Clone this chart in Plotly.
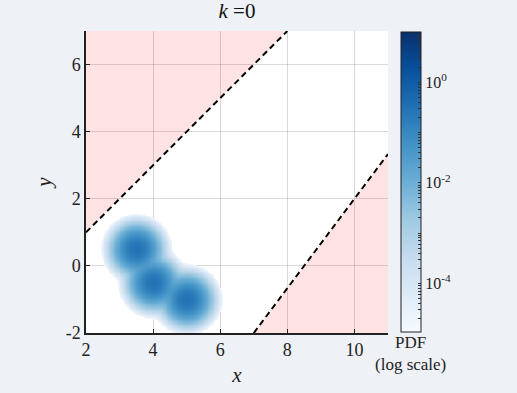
import numpy as np
import plotly.graph_objects as go

# Data
means_x = [3.5, 4.0, 5.0]
means_y = [0.5, -0.5, -1.0]
peak_pdf = [0.3, 0.3, 0.3]
sigma = 0.24
pdf_floor_log = -4.8
upper_line_x = [2, 8]
upper_line_y = [1, 7]
lower_line_x = [7, 11]
lower_line_y = [-2, 3.3333]
x_ticks = [2, 4, 6, 8, 10]
x_ticktext = ["2", "4", "6", "8", "10"]
y_ticks = [-2, 0, 2, 4, 6]
y_ticktext = ["-2", "0", "2", "4", "6"]
cbar_major = [-4, -2, 0]
cbar_major_text = ["10<sup>-4</sup>", "10<sup>-2</sup>", "10<sup>0</sup>"]
log_min, log_max = -4.97, 1.0

xs = np.linspace(2, 11, 361)
ys = np.linspace(-2, 7, 361)
X, Y = np.meshgrid(xs, ys)
pdf = np.zeros_like(X)
for mx, my, p in zip(means_x, means_y, peak_pdf):
    pdf += p * np.exp(-((X - mx)**2 + (Y - my)**2) / (2 * sigma**2))
Z = np.where(pdf >= 10**pdf_floor_log, np.log10(np.maximum(pdf, 1e-300)), np.nan)

cb_vals, cb_text = [], []
for d in range(-5, 1):
    for m in range(1, 10):
        v = d + np.log10(m)
        if log_min <= v <= log_max:
            cb_vals.append(v)
            cb_text.append(cbar_major_text[cbar_major.index(d)] if (m == 1 and d in cbar_major) else " ")

pink = "rgba(255,0,0,0.11)"
font = "Liberation Serif"
fig = go.Figure()

fig.add_trace(go.Scatter(x=[2, 2, 8, 2], y=[1, 7, 7, 1], fill="toself", fillcolor=pink,
                         line=dict(width=0), mode="lines", hoverinfo="skip", showlegend=False))
fig.add_trace(go.Scatter(x=[7, 11, 11, 7], y=[-2, 3.3333, -2, -2], fill="toself", fillcolor=pink,
                         line=dict(width=0), mode="lines", hoverinfo="skip", showlegend=False))

fig.add_trace(go.Heatmap(x=xs, y=ys, z=Z, colorscale="Blues", zmin=log_min, zmax=log_max,
                         zsmooth="best", hoverinfo="skip",
                         colorbar=dict(x=1.043, xanchor="left", y=0.5, yanchor="middle",
                                       len=0.995, lenmode="fraction", thickness=20,
                                       xpad=0, ypad=0, outlinewidth=1, outlinecolor="#222",
                                       tickmode="array", tickvals=cb_vals, ticktext=cb_text,
                                       ticks="inside", ticklen=3, tickcolor="#333",
                                       tickfont=dict(family=font, size=16, color="#222"))))

for lx, ly in [(upper_line_x, upper_line_y), (lower_line_x, lower_line_y)]:
    fig.add_trace(go.Scatter(x=lx, y=ly, mode="lines", line=dict(color="black", width=2, dash="6px,4px"),
                             hoverinfo="skip", showlegend=False))

axis_common = dict(showgrid=True, gridcolor="rgba(0,0,0,0.15)", gridwidth=1, zeroline=False,
                   showline=True, linecolor="#222", linewidth=1.5, ticks="inside", ticklen=4,
                   tickcolor="#222", tickfont=dict(family=font, size=18, color="#222"),
                   automargin=False)
fig.update_xaxes(range=[2, 11], tickvals=x_ticks, ticktext=x_ticktext, **axis_common,
                 title=dict(text="<i>x</i>", font=dict(family=font, size=21, color="#222"), standoff=8))
fig.update_yaxes(range=[-2, 7], tickvals=y_ticks, ticktext=y_ticktext, **axis_common,
                 title=dict(text="<i>y</i>", font=dict(family=font, size=21, color="#222"), standoff=8))

fig.update_layout(
    width=517, height=393,
    margin=dict(l=86, r=129, t=31, b=60),
    paper_bgcolor="#eef1f6", plot_bgcolor="white",
    showlegend=False,
    font=dict(family=font),
    title=dict(text="<i>k</i> =0", x=0.4584, xanchor="center", y=0.992, yanchor="top",
               font=dict(family=font, size=21, color="#111")),
    annotations=[
        dict(text="PDF<br>(log scale)", xref="paper", yref="paper", x=1.076, y=0.008,
             xanchor="center", yanchor="top", showarrow=False, align="center",
             font=dict(family=font, size=17, color="#222")),
    ],
)

fig.write_html("out.html")
